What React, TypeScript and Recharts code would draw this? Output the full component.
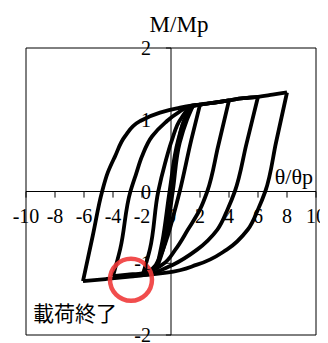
import {
  LineChart,
  Line,
  XAxis,
  YAxis,
  ReferenceLine,
  ReferenceDot,
  ReferenceArea,
} from "recharts";

const xTicks = [-10, -8, -6, -4, -2, 0, 2, 4, 6, 8, 10];
const yTicks = [-2, -1, 0, 1, 2];

// hysteresis branches (θ/θp, M/Mp), each one peak to the next
const up0 = [[0, 0], [0.5, 0.68], [1.0, 1.03], [1.5, 1.19]];
const down1 = [[1.5, 1.19], [1.1, 1.0], [0.6, 0.68], [0.12, 0], [-0.55, -0.81], [-1.0, -1.08]];
const up1 = [[-1.0, -1.08], [-0.6, -0.7], [-0.1, 0], [0.5, 0.72], [1.0, 1.03], [1.5, 1.19], [2.0, 1.21]];
const down2 = [[2.0, 1.21], [1.4, 0.72], [0.6, 0], [0.15, -0.35], [-0.2, -0.6], [-0.75, -0.9], [-1.3, -1.08], [-1.9, -1.13]];
const up2 = [[-1.9, -1.13], [-1.45, -0.8], [-0.88, 0], [-0.4, 0.4], [0.07, 0.72], [0.7, 1.02], [1.5, 1.19], [2.0, 1.21], [3.0, 1.24], [4.0, 1.27]];
const down3 = [[4.0, 1.27], [3.25, 0.63], [2.5, 0], [2.0, -0.25], [1.17, -0.53], [0.3, -0.81], [-0.6, -1.02], [-1.3, -1.1], [-2.0, -1.14], [-3.0, -1.16], [-4.0, -1.18]];
const up3 = [[-4.0, -1.18], [-3.5, -0.8], [-2.8, 0], [-2.4, 0.25], [-2.0, 0.49], [-1.3, 0.77], [-0.4, 0.96], [0.5, 1.1], [1.5, 1.2], [2.0, 1.21], [3.0, 1.24], [4.0, 1.27], [5.0, 1.3], [6.0, 1.32]];
const down4 = [[6.0, 1.32], [5.2, 0.66], [4.4, 0], [3.9, -0.25], [3.2, -0.53], [1.8, -0.81], [0.14, -1.02], [-0.75, -1.1], [-1.65, -1.16], [-3.0, -1.19], [-4.5, -1.22], [-6.07, -1.25]];
const up4 = [[-6.07, -1.25], [-5.4, -0.62], [-4.75, 0], [-4.35, 0.27], [-3.86, 0.49], [-3.17, 0.77], [-2.14, 0.98], [-0.76, 1.1], [0.4, 1.16], [1.5, 1.2], [2.0, 1.21], [3.0, 1.24], [4.0, 1.27], [5.0, 1.3], [6.0, 1.32], [7.0, 1.35], [8.0, 1.38]];
const down5 = [[8.0, 1.38], [7.25, 0.69], [6.5, 0], [6.0, -0.25], [5.3, -0.53], [3.85, -0.81], [1.8, -1.02], [-0.3, -1.13], [-1.5, -1.16], [-2.7, -1.18]];

const branches = [up0, down1, up1, down2, up2, down3, up3, down4, up4, down5];

// end-of-loading marker
const endMark = { x: -2.76, y: -1.23 };

const pts = (a: number[][]) => a.map(([x, y]) => ({ x, y }));

const serif = "'Liberation Serif', 'Times New Roman', serif";

export default function App() {
  return (
    <LineChart
      width={320}
      height={335}
      margin={{ top: 40, right: 12, bottom: 8, left: 18 }}
      style={{ overflow: "visible" }}
    >
      <XAxis dataKey="x" type="number" domain={[-10, 10]} hide allowDataOverflow />
      <YAxis type="number" domain={[-2, 2]} hide allowDataOverflow />
      <ReferenceArea x1={-10} x2={10} y1={-2} y2={2} fill="none" stroke="#000" strokeWidth={1} />
      <ReferenceLine x={0} stroke="#000" strokeWidth={1} />
      <ReferenceLine y={0} stroke="#000" strokeWidth={1} />
      {xTicks.map((t) => (
        <ReferenceLine
          key={"xt" + t}
          segment={[{ x: t, y: 0 }, { x: t, y: -0.085 }]}
          stroke="#000"
          strokeWidth={1}
        />
      ))}
      {yTicks.map((t) => (
        <ReferenceLine
          key={"yt" + t}
          segment={[{ x: -0.35, y: t }, { x: 0, y: t }]}
          stroke="#000"
          strokeWidth={1}
        />
      ))}
      {xTicks.map((t) => (
        <ReferenceDot
          key={"xl" + t}
          x={t}
          y={0}
          r={0}
          fill="none"
          stroke="none"
          label={{ value: String(t), position: "bottom", offset: 17, fontSize: 20, fill: "#000", fontFamily: serif }}
        />
      ))}
      {yTicks.map((t) => (
        <ReferenceDot
          key={"yl" + t}
          x={0}
          y={t}
          r={0}
          fill="none"
          stroke="none"
          label={{ value: String(t), position: "left", offset: 20, fontSize: 20, fill: "#000", fontFamily: serif }}
        />
      ))}
      <ReferenceDot
        x={0}
        y={2}
        r={0}
        fill="none"
        stroke="none"
        label={({ viewBox }: any) => (
          <text x={viewBox.x + 8} y={viewBox.y - 16} textAnchor="middle" fontSize={23} fontFamily={serif} fill="#000">
            M/Mp
          </text>
        )}
      />
      <ReferenceDot
        x={10}
        y={0}
        r={0}
        fill="none"
        stroke="none"
        label={({ viewBox }: any) => (
          <text x={viewBox.x - 3} y={viewBox.y - 8} textAnchor="end" fontSize={22} fontFamily={serif} fill="#000">
            θ/θp
          </text>
        )}
      />
      <ReferenceDot
        x={-10}
        y={-2}
        r={0}
        fill="none"
        stroke="none"
        label={({ viewBox }: any) => (
          <text x={viewBox.x + 7} y={viewBox.y - 14} fontSize={21} fontFamily="'Noto Sans CJK JP', sans-serif" fill="#000">
            載荷終了
          </text>
        )}
      />
      {branches.map((b, i) => (
        <Line
          key={"b" + i}
          data={pts(b)}
          dataKey="y"
          type="monotoneY"
          stroke="#000"
          strokeWidth={3.8}
          strokeLinejoin="round"
          dot={false}
          activeDot={false}
          isAnimationActive={false}
        />
      ))}
      <ReferenceDot
        x={endMark.x}
        y={endMark.y}
        r={21}
        fill="none"
        stroke="#f03a3a"
        strokeWidth={4.5}
        strokeOpacity={0.9}
      />
    </LineChart>
  );
}
